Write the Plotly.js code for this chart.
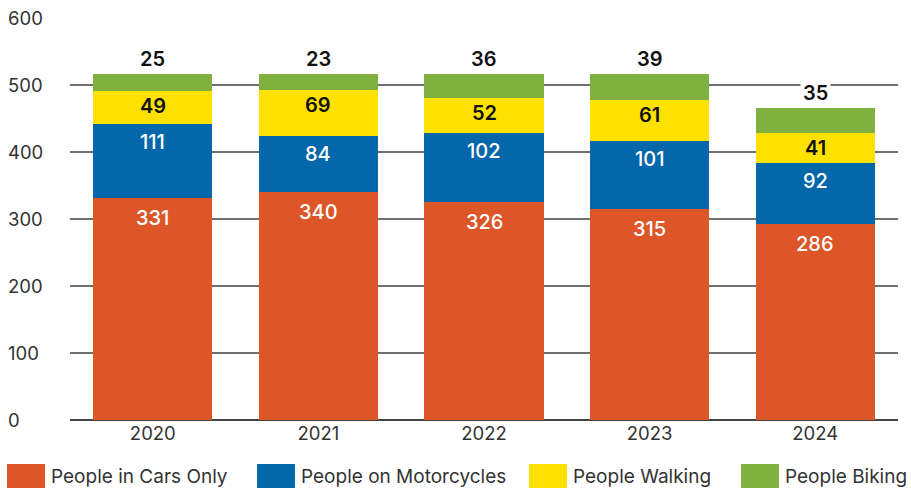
<!DOCTYPE html>
<html>
<head>
<meta charset="utf-8">
<script src="https://cdn.plot.ly/plotly-3.0.1.min.js"></script>
<style>html,body{margin:0;padding:0;background:#fff;}#chart{width:911px;height:489px;}</style>
</head>
<body>
<div id="chart"></div>
<script>
// ---- data ----
const years = ["2020", "2021", "2022", "2023", "2024"];
const seriesNames = ["People in Cars Only", "People on Motorcycles", "People Walking", "People Biking"];
const seriesColors = ["#DC5627", "#0467A9", "#FFE100", "#80B03F"];
// bar heights as drawn
const carsValues = [331, 340, 326, 315, 293];
const motorcycleValues = [111, 84, 102, 101, 91];
const walkingValues = [49, 69, 52, 61, 45];
const bikingValues = [25, 23, 36, 39, 37];
// printed labels
const carsLabels = ["331", "340", "326", "315", "286"];
const motorcycleLabels = ["111", "84", "102", "101", "92"];
const walkingLabels = ["49", "69", "52", "61", "41"];
const bikingLabels = ["25", "23", "36", "39", "35"];
const yTicks = [0, 100, 200, 300, 400, 500, 600];

// ---- build ----
const allValues = [carsValues, motorcycleValues, walkingValues, bikingValues];
const allLabels = [carsLabels, motorcycleLabels, walkingLabels, bikingLabels];
const labelColors = ["#ffffff", "#ffffff", "#111111", "#111111"];
const labelWeights = [500, 500, 600, 600];
const labelShift = [-20, -18, -15, 15];

const FONT = "Inter, 'Noto Sans', sans-serif";

const traces = allValues.map((vals, i) => ({
  type: "bar",
  x: years,
  y: vals,
  name: seriesNames[i],
  marker: {color: seriesColors[i], line: {width: 0}},
  hoverinfo: "skip",
  showlegend: false
}));

const annotations = [];
const cum = years.map(() => 0);
allValues.forEach((vals, i) => {
  vals.forEach((v, j) => {
    cum[j] += v;
    annotations.push({
      xref: "x", yref: "y", x: j, y: cum[j],
      text: allLabels[i][j], showarrow: false,
      yanchor: "middle", xanchor: "center", yshift: labelShift[i],
      font: {family: FONT, size: 20, color: labelColors[i], weight: labelWeights[i]},
      bgcolor: i === 3 ? "#ffffff" : "rgba(0,0,0,0)",
      borderpad: 2
    });
  });
});

// y tick labels, left aligned
yTicks.forEach(t => {
  annotations.push({
    xref: "paper", yref: "y", x: 0, xshift: -64, y: t,
    xanchor: "left", yanchor: "middle", showarrow: false,
    text: String(t), font: {family: FONT, size: 18.5, color: "#333333"}
  });
});

// custom legend
const L = 70, W = 828, B = 420, H = 402;
const px2x = p => (p - L) / W;
const py2y = p => (B - p) / H;
const swatchX = [7, 257, 529, 741];
const shapes = [];
seriesNames.forEach((n, i) => {
  shapes.push({
    type: "rect", xref: "paper", yref: "paper",
    x0: px2x(swatchX[i]), x1: px2x(swatchX[i] + 38),
    y0: py2y(488), y1: py2y(464),
    fillcolor: seriesColors[i], line: {width: 0}
  });
  annotations.push({
    xref: "paper", yref: "paper", x: px2x(swatchX[i] + 42), y: py2y(476),
    xanchor: "left", yanchor: "middle", showarrow: false,
    text: n, font: {family: FONT, size: 19, color: "#333333"}
  });
});

const layout = {
  width: 911, height: 489,
  margin: {l: L, r: 911 - L - W, t: 18, b: 489 - B},
  paper_bgcolor: "#ffffff", plot_bgcolor: "#ffffff",
  barmode: "stack", bargap: 0.28,
  font: {family: FONT, color: "#333333"},
  xaxis: {
    type: "category", range: [-0.5, years.length - 0.5], autorange: false,
    showgrid: false, zeroline: false, showline: false,
    ticks: "", tickfont: {family: FONT, size: 18.5, color: "#333333"}, fixedrange: true
  },
  yaxis: {
    range: [0, 600], tickvals: yTicks, showticklabels: false,
    showgrid: true, gridcolor: "#6f6f6f", gridwidth: 1.3,
    zeroline: true, zerolinecolor: "#444444", zerolinewidth: 1.6,
    showline: false, ticks: "", fixedrange: true
  },
  annotations: annotations,
  shapes: shapes,
  showlegend: false
};

Plotly.newPlot("chart", traces, layout, {displayModeBar: false, staticPlot: true});
</script>
</body>
</html>
